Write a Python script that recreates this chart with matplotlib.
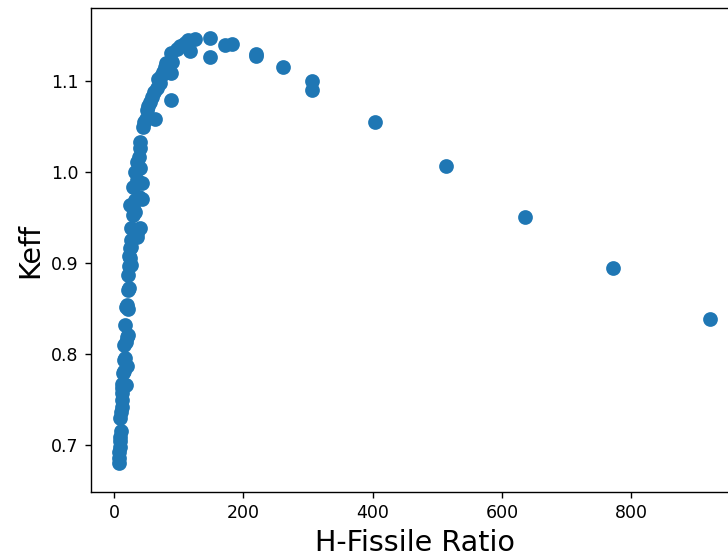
import matplotlib
matplotlib.use("Agg")
import matplotlib.pyplot as plt

# H-fissile ratio vs keff
h_fissile = [8, 8, 8.5, 9, 9.5, 10, 11, 10, 11, 12, 12, 12, 13, 12, 19, 14, 16, 15, 20, 17,
             16, 18, 20, 21, 17, 19, 21, 20, 22, 23, 22, 24, 27, 25, 24, 26, 25,
             27, 35, 27, 35, 40, 29, 33, 30, 25, 33, 43, 38, 30, 43, 36, 33, 40, 35, 38, 40, 40,
             45, 47, 50, 64,
             51, 53, 56, 59, 62, 66, 71, 68, 73, 76, 88, 79, 81, 90, 88, 88, 98, 102, 107, 110,
             115, 117, 125, 148, 148, 171, 183, 220, 220, 261, 306, 306, 404, 514, 636, 772, 922]
keff = [0.680, 0.686, 0.692, 0.698, 0.704, 0.709, 0.715, 0.730, 0.736, 0.742, 0.749, 0.757,
        0.763, 0.767, 0.766, 0.779, 0.781, 0.793, 0.787, 0.796,
        0.810, 0.813, 0.819, 0.821, 0.832, 0.852, 0.849, 0.854, 0.870, 0.873, 0.887, 0.897,
        0.898, 0.906, 0.908, 0.918, 0.917,
        0.925, 0.929, 0.938, 0.933, 0.938, 0.953, 0.956, 0.962, 0.964, 0.969, 0.970, 0.973,
        0.984, 0.988, 0.991, 1.000, 1.004, 1.011, 1.016, 1.026, 1.033,
        1.049, 1.055, 1.058, 1.058,
        1.068, 1.072, 1.077, 1.082, 1.088, 1.092, 1.098, 1.102, 1.106, 1.110, 1.109, 1.115,
        1.120, 1.121, 1.131, 1.079, 1.135, 1.138, 1.140, 1.142,
        1.145, 1.133, 1.146, 1.147, 1.126, 1.140, 1.141, 1.130, 1.127, 1.115, 1.100, 1.090,
        1.055, 1.007, 0.951, 0.895, 0.839]

fig = plt.figure(figsize=(728 / 125, 558 / 125), dpi=125)
ax = fig.add_axes([90.5 / 728, 66.3 / 558, 649 / 728, 483.4 / 558])

ax.scatter(h_fissile, keff, s=56, color="#1f77b4")

ax.set_xlim(-36.3, 967.7)
ax.set_ylim(0.6487, 1.1799)
ax.set_xticks([0, 200, 400, 600, 800])
ax.set_yticks([0.7, 0.8, 0.9, 1.0, 1.1])
ax.tick_params(labelsize=10)
ax.set_xlabel("H-Fissile Ratio", fontsize=16.5)
ax.set_ylabel("Keff", fontsize=16.5)

fig.savefig("out.png", dpi=125)
